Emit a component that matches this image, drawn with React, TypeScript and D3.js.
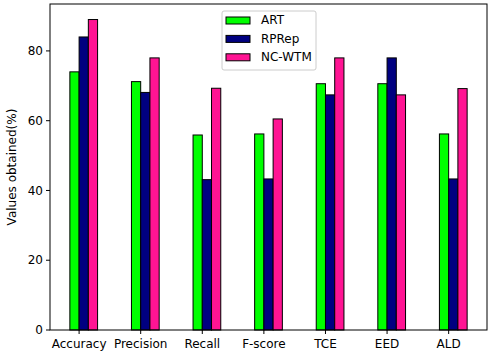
import * as d3 from "d3";

const categories = ["Accuracy", "Precision", "Recall", "F-score", "TCE", "EED", "ALD"];
const seriesNames = ["ART", "RPRep", "NC-WTM"];
const artValues = [74, 71.2, 55.9, 56.2, 70.6, 70.6, 56.2];
const rprepValues = [84, 68.1, 43.1, 43.3, 67.4, 78, 43.3];
const ncwtmValues = [89, 78, 69.3, 60.5, 78, 67.4, 69.2];
const yTicks = [0, 20, 40, 60, 80];
const colors = ["#00ff00", "#000080", "#ff1493"];

const W = 492;
const H = 353;
const left = 50;
const right = 487;
const top = 4;
const bottom = 330;
const barW = 0.15;
const font = "'DejaVu Sans', sans-serif";

export default function App() {
  const series = [artValues, rprepValues, ncwtmValues];
  const n = categories.length;
  const xMin = -barW;
  const xMax = n - 1 + 2 * barW;
  const pad = (xMax - xMin) * 0.05;
  const x = d3.scaleLinear().domain([xMin - pad, xMax + pad]).range([left, right]);
  const yMax = d3.max(series.flat())! * 1.05;
  const y = d3.scaleLinear().domain([0, yMax]).range([bottom, top]);
  const offsets = [-barW, 0, barW];

  return (
    <svg width={W} height={H} style={{ position: "absolute", left: 0, top: 0 }} fontFamily={font}>
      <rect width={W} height={H} fill="#fff" />
      {series.map((vals, si) =>
        vals.map((v, i) => (
          <rect
            key={`${si}-${i}`}
            x={x(i + offsets[si])}
            y={y(v)}
            width={x(barW) - x(0)}
            height={y(0) - y(v)}
            fill={colors[si]}
            stroke="#000"
            strokeWidth={1}
          />
        )),
      )}
      <rect x={left} y={top} width={right - left} height={bottom - top} fill="none" stroke="#000" strokeWidth={1} />
      {yTicks.map((t) => (
        <g key={t}>
          <line x1={left - 4} x2={left} y1={y(t)} y2={y(t)} stroke="#000" />
          <text x={left - 7} y={y(t)} dy="0.35em" textAnchor="end" fontSize={12} fill="#000">
            {t}
          </text>
        </g>
      ))}
      {categories.map((c, i) => (
        <g key={c}>
          <line x1={x(i)} x2={x(i)} y1={bottom} y2={bottom + 4} stroke="#000" />
          <text x={x(i)} y={bottom + 18} textAnchor="middle" fontSize={12} fill="#000">
            {c}
          </text>
        </g>
      ))}
      <text
        transform={`translate(16,${(top + bottom) / 2}) rotate(-90)`}
        textAnchor="middle"
        fontSize={12}
        fill="#000"
      >
        Values obtained(%)
      </text>
      <g transform="translate(222,11)">
        <rect width={94} height={59} rx={2} fill="#fff" fillOpacity={0.8} stroke="#cccccc" />
        {seriesNames.map((s, i) => (
          <g key={s} transform={`translate(0,${9 + i * 18.4})`}>
            <rect x={4} y={-3} width={24} height={7} fill={colors[i]} stroke="#000" />
            <text x={39} y={0} dy="0.35em" fontSize={12} fill="#000">
              {s}
            </text>
          </g>
        ))}
      </g>
    </svg>
  );
}
